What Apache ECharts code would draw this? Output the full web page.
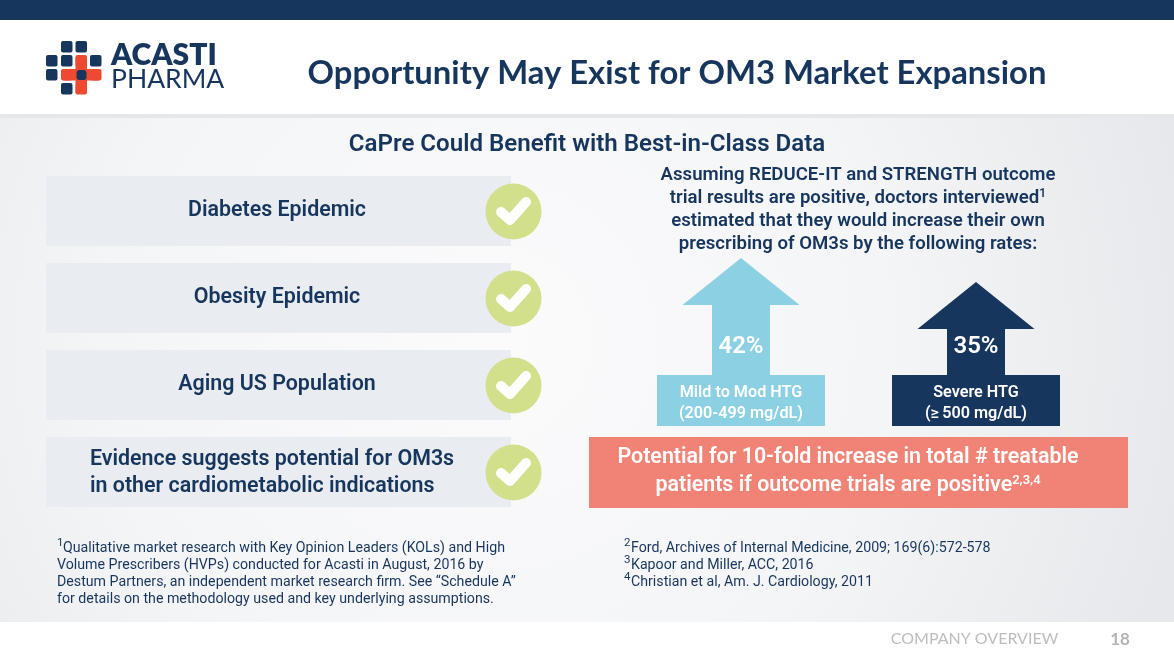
<!DOCTYPE html>
<html>
<head>
<meta charset="utf-8">
<style>html,body{margin:0;padding:0;background:#fff}#main{width:1174px;height:660px}</style>
<script src="https://cdn.jsdelivr.net/npm/echarts@6/dist/echarts.min.js"></script>
</head>
<body>
<div id="main"></div>
<script>
var categories = ['Mild to Mod HTG\n(200-499 mg/dL)', 'Severe HTG\n(≥\u2009500 mg/dL)'];
var rates = [42, 35];
var rateColors = ['#8bd0e3', '#17365d'];

var title = 'Opportunity May Exist for OM3 Market Expansion';
var subtitle = 'CaPre Could Benefit with Best-in-Class Data';
var factors = ['Diabetes Epidemic', 'Obesity Epidemic', 'Aging US Population'];
var factorLong = ['Evidence suggests potential for OM3s', 'in other cardiometabolic indications'];
var intro = ['Assuming REDUCE-IT and STRENGTH outcome',
  'trial results are positive, doctors interviewed{s|1}',
  'estimated that they would increase their own',
  'prescribing of OM3s by the following rates:'];
var callout = ['Potential for 10-fold increase in total # treatable',
  'patients if outcome trials are positive{s|2,3,4}'];
var notesLeft = ['Qualitative market research with Key Opinion Leaders (KOLs) and High',
  'Volume Prescribers (HVPs) conducted for Acasti in August, 2016 by',
  'Destum Partners, an independent market research firm. See “Schedule A”',
  'for details on the methodology used and key underlying assumptions.'];
var notesRight = ['Ford, Archives of Internal Medicine, 2009; 169(6):572-578',
  'Kapoor and Miller, ACC, 2016',
  'Christian et al, Am. J. Cardiology, 2011'];
var notesRightMarks = ['2', '3', '4'];

var navy = '#17365d';
var chart = echarts.init(document.getElementById('main'));

function txt(x, y, str, size, weight, color, align, family, supSize) {
  return {
    type: 'text', x: x, y: y, silent: true,
    style: {
      text: str, align: align || 'left', verticalAlign: 'middle',
      fontFamily: family || 'Roboto', fontSize: size, fontWeight: weight, fill: color,
      rich: {
        s: { fontFamily: family || 'Roboto', fontSize: supSize || 10, fontWeight: weight, fill: color,
             color: color, verticalAlign: 'top', lineHeight: size + 2, padding: [0, 0, 0, 0] }
      }
    }
  };
}
function box(x, y, w, h, fill, r) {
  return { type: 'rect', silent: true, shape: { x: x, y: y, width: w, height: h, r: r || 0 }, style: { fill: fill } };
}

var g = [];
// slide background
g.push(box(0, 0, 1174, 660, '#ffffff'));
g.push(box(0, 0, 1174, 20, navy));
g.push({
  type: 'rect', silent: true, shape: { x: 0, y: 114, width: 1174, height: 508 },
  style: { fill: new echarts.graphic.RadialGradient(0.42, 0.45, 1.4, [
    { offset: 0, color: '#fbfbfc' }, { offset: 0.55, color: '#f4f5f7' }, { offset: 1, color: '#e6e8eb' }]) }
});
g.push(box(0, 114, 1174, 4, '#e6e7ea'));

// logo
var blue = [[61, 41], [75.5, 41], [46, 55], [61, 55], [90, 55], [46, 69], [61, 83]];
var red = [[75.5, 55], [61, 69], [90, 69], [75.5, 83]];
blue.forEach(function (p) { g.push(box(p[0], p[1], 11.5, 11.5, navy, 2)); });
red.forEach(function (p) { g.push(box(p[0], p[1], 11.5, 11.5, '#ee4a32', 2)); });
g.push(box(75.5, 57, 11.5, 36, '#ee4a32', 1));
g.push(box(63, 69, 36, 11.5, '#ee4a32', 1));
g.push(box(76.5, 70, 10, 10, navy, 3));
g.push(txt(111, 55, 'ACASTI', 30, 800, navy, 'left', 'Lato'));
g.push(txt(111, 79.5, 'PHARMA', 26.5, 400, navy, 'left', 'Lato'));

g.push(txt(677, 73.5, title, 32.8, 700, navy, 'center', 'Lato'));
g.push(txt(587, 145, subtitle, 24.1, 600, navy, 'center'));

// left rows
var rowTops = [176, 263, 350, 437];
rowTops.forEach(function (t) { g.push(box(46, t, 465, 70, '#e9ecf0')); });
factors.forEach(function (f, i) { g.push(txt(277, rowTops[i] + 35, f, 21.4, 600, navy, 'center')); });
g.push(txt(90, 460, factorLong[0], 21.4, 600, navy));
g.push(txt(90, 487, factorLong[1], 21.4, 600, navy));
rowTops.forEach(function (t) {
  g.push({ type: 'circle', silent: true, shape: { cx: 513.5, cy: t + 35.5, r: 28 }, style: { fill: '#d2df8b' } });
  g.push({
    type: 'polyline', silent: true,
    shape: { points: [[501, t + 36], [510, t + 44], [526, t + 26]] },
    style: { stroke: '#fff', lineWidth: 10, lineCap: 'round', lineJoin: 'round', fill: null }
  });
});

// right text
intro.forEach(function (l, i) { g.push(txt(858, 175.5 + i * 23, l, 18.6, 600, navy, 'center', 'Roboto', 12)); });
g.push(box(589, 437, 539, 71, '#f08375'));
callout.forEach(function (l, i) { g.push(txt(848, 458 + i * 28, l, 21.4, 600, '#fff', 'center', 'Roboto', 13)); });

// footnotes
g.push(txt(57, 543, '1', 11.5, 400, navy));
notesLeft.forEach(function (l, i) { g.push(txt(i ? 57 : 63, 548 + i * 17, l, 14.2, 400, navy)); });
notesRightMarks.forEach(function (m, i) { g.push(txt(624, 543 + i * 17, m, 11.5, 400, navy)); });
notesRight.forEach(function (l, i) { g.push(txt(631, 548 + i * 17, l, 14.2, 400, navy)); });

// footer
g.push(txt(974.5, 639, 'COMPANY OVERVIEW', 16, 400, '#bdbdbd', 'center', 'Lato'));
g.push(txt(1120, 640, '18', 17, 700, '#b4b4b4', 'center', 'Lato'));

function renderArrow(params, api) {
  var i = params.dataIndex;
  var tip = api.coord([api.value(0), api.value(1)]);
  var base = api.coord([api.value(0), 0]);
  var cx = tip[0];
  var color = rateColors[i];
  var boxTop = base[1] - 27, boxBottom = base[1] + 24;
  var headBottom = tip[1] + 47;
  var labelColor = '#fff';
  return {
    type: 'group',
    children: [
      { type: 'polygon', shape: { points: [
          [cx, tip[1]], [cx + 58.5, headBottom], [cx + 29, headBottom], [cx + 29, boxTop],
          [cx + 84, boxTop], [cx + 84, boxBottom], [cx - 84, boxBottom], [cx - 84, boxTop],
          [cx - 29, boxTop], [cx - 29, headBottom], [cx - 58.5, headBottom]] },
        style: { fill: color } },
      { type: 'text', x: cx, y: boxTop - 28, style: {
          text: api.value(1) + '%', align: 'center', verticalAlign: 'middle',
          fontFamily: 'Roboto', fontSize: 24, fontWeight: 600, fill: labelColor } },
      { type: 'text', x: cx, y: boxTop + 28, style: {
          text: categories[i], align: 'center', verticalAlign: 'middle', lineHeight: 21,
          fontFamily: 'Roboto', fontSize: 16.2, fontWeight: 600, fill: labelColor } }
    ]
  };
}

var option = {
  animation: false,
  graphic: { elements: g },
  grid: { left: 623.5, width: 470, top: 258, height: 144 },
  xAxis: { type: 'category', data: categories, show: false },
  yAxis: { type: 'value', min: 0, max: 42, show: false },
  series: [{
    type: 'custom',
    renderItem: renderArrow,
    encode: { x: 0, y: 1 },
    data: rates.map(function (v, i) { return [i, v]; })
  }]
};
chart.setOption(option);
</script>
</body>
</html>
